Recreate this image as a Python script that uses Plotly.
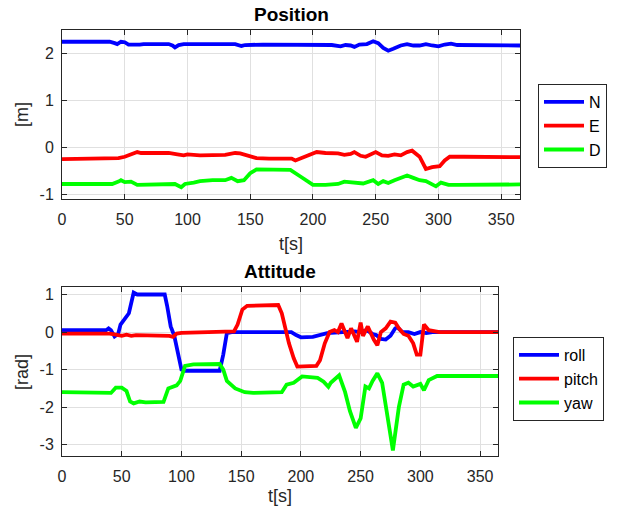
import plotly.graph_objects as go

# ---------------- Position data ----------------
t_N = [0, 38, 42, 44, 47, 50, 53, 58, 62, 65, 75, 85, 88, 90, 93, 97, 110, 130, 138, 143, 146, 160, 180, 200, 215, 222, 226, 230, 233, 237, 243, 248, 252, 256, 260, 264, 270, 275, 280, 285, 290, 295, 300, 305, 310, 315, 365]
pos_N = [2.25, 2.25, 2.22, 2.2, 2.25, 2.24, 2.19, 2.18, 2.19, 2.2, 2.2, 2.2, 2.17, 2.13, 2.18, 2.2, 2.2, 2.2, 2.2, 2.16, 2.18, 2.19, 2.19, 2.18, 2.18, 2.15, 2.18, 2.17, 2.14, 2.19, 2.2, 2.26, 2.22, 2.12, 2.06, 2.1, 2.17, 2.2, 2.17, 2.17, 2.2, 2.17, 2.15, 2.19, 2.21, 2.18, 2.17]

t_E = [0, 40, 45, 50, 55, 60, 63, 70, 85, 92, 97, 100, 110, 130, 138, 142, 148, 155, 165, 183, 186, 190, 195, 200, 203, 210, 220, 225, 230, 233, 238, 242, 246, 250, 255, 260, 265, 270, 275, 279, 285, 290, 295, 301, 305, 309, 320, 365]
pos_E = [-0.25, -0.25, -0.23, -0.2, -0.15, -0.1, -0.12, -0.12, -0.12, -0.15, -0.17, -0.15, -0.17, -0.16, -0.12, -0.13, -0.18, -0.23, -0.24, -0.24, -0.28, -0.24, -0.2, -0.13, -0.1, -0.12, -0.13, -0.16, -0.14, -0.1, -0.18, -0.2, -0.14, -0.1, -0.17, -0.18, -0.15, -0.17, -0.1, -0.07, -0.2, -0.46, -0.42, -0.4, -0.28, -0.2, -0.2, -0.21]

t_D = [0, 40, 45, 47, 50, 55, 60, 70, 85, 90, 95, 98, 105, 110, 120, 130, 135, 140, 145, 150, 155, 170, 182, 190, 195, 200, 210, 220, 225, 230, 240, 248, 252, 256, 260, 265, 270, 275, 280, 285, 290, 298, 302, 308, 315, 365]
pos_D = [-0.78, -0.78, -0.73, -0.7, -0.74, -0.73, -0.8, -0.8, -0.8, -0.78, -0.85, -0.78, -0.75, -0.72, -0.7, -0.7, -0.65, -0.72, -0.7, -0.55, -0.47, -0.47, -0.48, -0.62, -0.72, -0.8, -0.8, -0.78, -0.73, -0.75, -0.77, -0.7, -0.78, -0.72, -0.76, -0.7, -0.66, -0.6, -0.65, -0.7, -0.72, -0.83, -0.75, -0.8, -0.8, -0.79]

# ---------------- Attitude data ----------------
t_roll = [0, 37, 39, 41, 44, 47, 49, 53, 56, 60, 63, 70, 86, 88, 91, 94, 97, 100, 103, 132, 135, 138, 142, 192, 196, 200, 210, 218, 222, 235, 245, 250, 255, 260, 263, 267, 271, 275, 279, 281, 285, 290, 295, 300, 305, 310, 365]
roll = [0.05, 0.05, 0.1, 0.05, -0.12, -0.05, 0.2, 0.35, 0.5, 1.05, 1.0, 1.0, 1.0, 0.7, 0.15, -0.1, -0.5, -1.0, -1.03, -1.03, -0.6, -0.03, 0.0, 0.0, -0.08, -0.14, -0.13, -0.08, -0.03, 0.0, 0.02, 0.0, 0.05, -0.05, -0.08, -0.18, -0.2, -0.1, 0.1, 0.12, 0.0, 0.0, -0.05, 0.0, -0.03, 0.0, 0.0]

t_pitch = [0, 40, 45, 50, 54, 58, 62, 70, 90, 93, 96, 100, 140, 144, 147, 151, 155, 181, 184, 187, 190, 194, 197, 213, 216, 220, 224, 228, 231, 234, 236, 239, 242, 244, 247, 250, 252, 256, 259, 261, 264, 267, 271, 275, 279, 282, 286, 290, 294, 297, 300, 303, 307, 311, 316, 365]
pitch = [-0.04, -0.04, -0.07, -0.1, -0.07, -0.1, -0.08, -0.09, -0.1, -0.13, -0.04, -0.02, 0.0, 0.02, 0.2, 0.6, 0.7, 0.72, 0.5, 0.1, -0.3, -0.7, -0.92, -0.9, -0.75, -0.3, 0.0, 0.05, 0.0, 0.23, 0.05, -0.16, 0.1, -0.05, -0.26, 0.25, -0.1, 0.15, -0.1, -0.2, -0.35, 0.0, 0.1, 0.28, 0.25, 0.1, -0.05, -0.1, -0.3, -0.6, -0.6, 0.2, 0.05, 0.03, 0.0, 0.0]

t_yaw = [0, 39, 41, 45, 50, 54, 57, 60, 65, 70, 85, 89, 93, 96, 99, 103, 110, 132, 135, 138, 145, 153, 160, 184, 188, 191, 194, 201, 210, 214, 219, 223, 225, 232, 237, 241, 246, 250, 254, 257, 260, 264, 268, 272, 277, 282, 286, 290, 294, 300, 303, 307, 314, 365]
yaw = [-1.6, -1.6, -1.62, -1.48, -1.48, -1.57, -1.85, -1.9, -1.85, -1.87, -1.86, -1.5, -1.45, -1.42, -1.3, -0.9, -0.86, -0.85, -1.0, -1.3, -1.5, -1.6, -1.62, -1.6, -1.4, -1.37, -1.35, -1.18, -1.2, -1.22, -1.32, -1.46, -1.35, -1.15, -1.6, -2.1, -2.55, -2.3, -1.45, -1.5, -1.3, -1.1, -1.35, -2.1, -3.15, -2.0, -1.4, -1.35, -1.45, -1.38, -1.55, -1.28, -1.17, -1.17]

x_ticks = [0, 50, 100, 150, 200, 250, 300, 350]
x_ticklabels = ["0", "50", "100", "150", "200", "250", "300", "350"]
pos_ticks = [-1, 0, 1, 2]
pos_ticklabels = ["-1", "0", "1", "2"]
att_ticks = [-3, -2, -1, 0, 1]
att_ticklabels = ["-3", "-2", "-1", "0", "1"]

BLUE, RED, GREEN = "#0000ff", "#ff0000", "#00ff00"
FONT = "Liberation Sans, Arial, sans-serif"
AX = "#262626"
GRID = "#e0e0e0"
LW = 3.8

fig = go.Figure()
for t, v, name, col in [(t_N, pos_N, "N", BLUE), (t_E, pos_E, "E", RED), (t_D, pos_D, "D", GREEN)]:
    fig.add_trace(go.Scatter(x=t, y=v, name=name, mode="lines", line=dict(color=col, width=LW),
                             xaxis="x", yaxis="y", legend="legend"))
for t, v, name, col in [(t_roll, roll, "roll", BLUE), (t_pitch, pitch, "pitch", RED), (t_yaw, yaw, "yaw", GREEN)]:
    fig.add_trace(go.Scatter(x=t, y=v, name=name, mode="lines", line=dict(color=col, width=LW),
                             xaxis="x2", yaxis="y2", legend="legend2"))

W, H = 636, 515
def px(x):
    return x / W
def py(y):
    return 1 - y / H

axis_common = dict(showline=True, linecolor=AX, linewidth=1, mirror="ticks", ticks="inside",
                   ticklen=5, tickcolor=AX, showgrid=True, gridcolor=GRID, gridwidth=1,
                   zeroline=False, automargin=False, tickmode="array",
                   tickfont=dict(family=FONT, size=16, color=AX))

fig.update_layout(
    width=W, height=H, margin=dict(l=0, r=0, t=0, b=0, autoexpand=False),
    paper_bgcolor="white", plot_bgcolor="white",
    font=dict(family=FONT, color=AX),
    xaxis=dict(domain=[px(62), px(520)], range=[0, 365], tickvals=x_ticks, ticktext=x_ticklabels,
               anchor="y", ticklabelstandoff=6, **axis_common),
    yaxis=dict(domain=[py(199), py(30)], range=[-1.1, 2.5], tickvals=pos_ticks, ticktext=pos_ticklabels,
               anchor="x", ticklabelstandoff=4, **axis_common),
    xaxis2=dict(domain=[px(62), px(498)], range=[0, 365], tickvals=x_ticks, ticktext=x_ticklabels,
                anchor="y2", ticklabelstandoff=6, **axis_common),
    yaxis2=dict(domain=[py(456), py(287)], range=[-3.3, 1.2], tickvals=att_ticks, ticktext=att_ticklabels,
                anchor="x2", ticklabelstandoff=4, **axis_common),
    legend=dict(x=px(538), y=py(84), xanchor="left", yanchor="top", bgcolor="white",
                bordercolor=AX, borderwidth=1, font=dict(family=FONT, size=16, color="black"),
                tracegroupgap=0, itemwidth=40),
    legend2=dict(x=px(513), y=py(337), xanchor="left", yanchor="top", bgcolor="white",
                 bordercolor=AX, borderwidth=1, font=dict(family=FONT, size=16, color="black"),
                 tracegroupgap=0, itemwidth=40),
    showlegend=True,
)

ann = [
    dict(text="<b>Position</b>", x=px(291), y=py(15), size=19),
    dict(text="<b>Attitude</b>", x=px(280), y=py(271), size=19),
    dict(text="t[s]", x=px(291), y=py(244), size=18),
    dict(text="t[s]", x=px(280), y=py(496), size=18),
]
for a in ann:
    fig.add_annotation(text=a["text"], x=a["x"], y=a["y"], xref="paper", yref="paper",
                       xanchor="center", yanchor="middle", showarrow=False,
                       font=dict(family=FONT, size=a["size"], color="black" if "<b>" in a["text"] else AX))
for txt, yc in [("[m]", 115), ("[rad]", 372)]:
    fig.add_annotation(text=txt, x=px(22), y=py(yc), xref="paper", yref="paper", textangle=-90,
                       xanchor="center", yanchor="middle", showarrow=False,
                       font=dict(family=FONT, size=18, color=AX))

# remove the browser's default 8px page margin so the figure fills the window exactly
fig.write_html("out.html", config={"displayModeBar": False},
               post_script="document.body.style.margin='0';document.body.style.overflow='hidden';")
